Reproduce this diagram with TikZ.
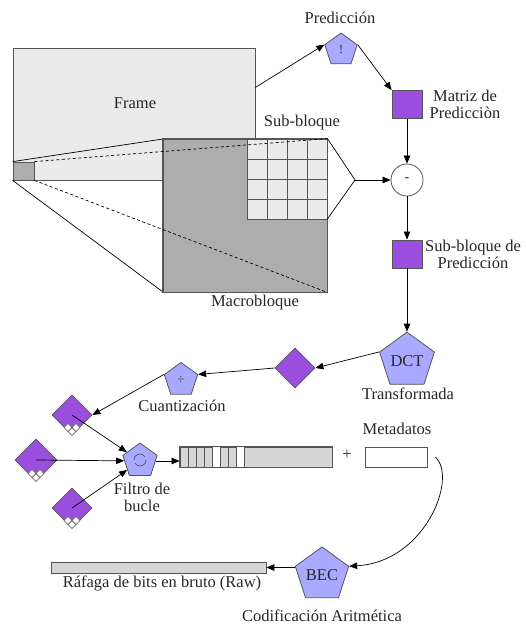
\documentclass[tikz,border=0pt]{standalone}
\usepackage{fontspec}
\setmainfont{Liberation Serif}
\usetikzlibrary{shapes.geometric,arrows.meta,calc}
\definecolor{lgray}{HTML}{EBEBEB}
\definecolor{dgray}{HTML}{ADADAD}
\definecolor{bargray}{HTML}{D6D6D6}
\definecolor{bord}{HTML}{555555}
\definecolor{pentc}{HTML}{A9A9FF}
\definecolor{purpc}{HTML}{9B4FDF}
\definecolor{txt}{HTML}{262626}
\newcommand\checkerat[1]{%
  \begin{scope}[shift={(#1)}]
    \foreach \dx/\dy in {0/-4,-4/-8,4/-8}
      {\draw[draw=bord, fill=white, line width=0.5pt] (\dx,\dy-4) -- (\dx+4,\dy) -- (\dx,\dy+4) -- (\dx-4,\dy) -- cycle;}
  \end{scope}}
\begin{document}
\begin{tikzpicture}[x=1pt,y=-1pt,
  lbl/.style={font=\fontsize{16.5}{17}\selectfont, text=txt, inner sep=0pt, align=center},
  pent/.style={regular polygon, regular polygon sides=5, draw=bord, fill=pentc, inner sep=0pt, line width=0.8pt, text=txt},
  dia/.style={diamond, aspect=1, draw=bord, fill=purpc, inner sep=0pt, line width=0.8pt},
  sqr/.style={rectangle, draw=bord, fill=purpc, minimum width=30pt, minimum height=28pt, inner sep=0pt, line width=0.8pt},
  box/.style={rectangle, draw=bord, inner sep=0pt, line width=0.8pt},
  arr/.style={-{Triangle[length=8pt,width=6.5pt]}, line width=0.7pt, draw=black},
  ln/.style={line width=0.7pt, draw=black},
  dsh/.style={dashed, dash pattern=on 3pt off 2.5pt, line width=0.7pt, draw=black}]
\useasboundingbox (0,0) rectangle (526,626);

% Frame and magnification
\node[box, fill=lgray, minimum width=242pt, minimum height=132pt] (frame) at (134,114) {};
\node[lbl] (framelbl) at (135,103) {Frame};
\node[box, fill=dgray, minimum width=21pt, minimum height=18pt] (small) at (23.5,171) {};
\draw[ln] (small.north west) -- (163,139) coordinate (mtl);
\draw[ln] (small.south west) -- (163,292) coordinate (mbl);
\node[box, fill=dgray, minimum width=164pt, minimum height=153pt] (macro) at (245,215.5) {};
\node[rectangle, fill=lgray, minimum width=80pt, minimum height=80pt, inner sep=0pt] (sub) at (287,179) {};
\foreach \i in {0,...,4} {
  \draw[bord, line width=0.8pt] (247+20*\i,139) -- (247+20*\i,219);
  \draw[bord, line width=0.8pt] (247,139+20*\i) -- (327,139+20*\i);
}
\draw[box] (macro.north west) rectangle (macro.south east);
\draw[dsh] (small.north east) -- (macro.north east);
\draw[dsh] (small.south east) -- (macro.south east);
\coordinate (apex) at (355,180);
\draw[ln] (macro.north east) -- (apex) -- (sub.south east);
\node[lbl] (sublbl) at (302,123) {Sub-bloque};
\node[lbl] (macrolbl) at (255,303) {Macrobloque};

% Prediction chain
\node[pent, minimum size=34pt, font=\fontsize{12}{12}\selectfont] (pred) at (341,50) {!};
\node[lbl] (predlbl) at (340,18) {Predicción};
\node[sqr] (mat) at (407,104.5) {};
\node[lbl] (matlbl) at (465,104) {Matriz de\\Predicciòn};
\node[circle, draw=bord, fill=white, minimum size=32pt, inner sep=0pt, line width=0.8pt, font=\fontsize{14}{14}\selectfont, text=txt] (minus) at (407,180) {-};
\node[sqr] (subp) at (407,254) {};
\node[lbl] (subplbl) at (473,254) {Sub-bloque de\\Predicción};
\node[pent, minimum size=50pt, font=\fontsize{16.5}{17}\selectfont] (dct) at (407,361) {DCT};
\node[lbl] (dctlbl) at (408,394) {Transformada};

\draw[arr] ($(frame.north east)!0.3!(frame.south east)$) -- (pred.corner 2);
\draw[arr] (pred.corner 5) -- (mat.north west);
\draw[arr] (mat.south) -- (minus.north);
\draw[arr] (apex) -- (minus.west);
\draw[arr] (minus.south) -- (subp.north);
\draw[arr] (subp.south) -- (dct.corner 1);

% Quantization
\node[dia, minimum width=40pt, minimum height=40pt] (dmid) at (295,368) {};
\node[pent, minimum size=35pt, font=\fontsize{12}{12}\selectfont] (quant) at (181,380) {÷};
\node[lbl] (quantlbl) at (182,406) {Cuantización};
\draw[arr] (dct.corner 2) -- (dmid.east);
\draw[arr] (dmid.west) -- (quant.corner 5);

\node[dia, minimum width=40pt, minimum height=40pt] (q1) at (72,415) {};
\node[dia, minimum width=42pt, minimum height=42pt] (q2) at (36,460) {};
\node[dia, minimum width=40pt, minimum height=40pt] (q3) at (72,508) {};
\checkerat{q1.south}
\checkerat{q2.south}
\checkerat{q3.south}
\draw[arr] (quant.corner 2) -- (q1.east);

% Loop filter
\node[pent, minimum size=36pt] (loop) at (140,461) {};
\draw[line width=0.7pt, draw=bord] (146,460) arc[start angle=0, end angle=150, radius=6];
\draw[line width=0.7pt, draw=bord] (134,460) arc[start angle=180, end angle=330, radius=6];
\node[lbl] (looplbl) at (142,497) {Filtro de\\bucle};
\draw[arr] (q1.center) -- (loop);
\draw[arr] (q2.center) -- (loop);
\draw[arr] (q3.center) -- (loop);

% Bitstream bar
\node[box, fill=bargray, minimum width=152pt, minimum height=20pt] (bar) at (256,457) {};
\fill[white] (212,447) rectangle (220,467);
\fill[white] (236,447) rectangle (244,467);
\foreach \xx in {188,196,204,212,220,228,236,244}
  \draw[bord, line width=0.8pt] (\xx,447) -- (\xx,467);
\draw[box] (bar.north west) rectangle (bar.south east);
\draw[arr] (loop.east) -- (loop.east -| bar.west);
\node[lbl] (plus) at (347,455) {+};
\node[box, fill=white, minimum width=62pt, minimum height=20pt] (meta) at (396,457) {};
\node[lbl] (metalbl) at (397,429) {Metadatos};

% Entropy coding
\node[pent, minimum size=52pt, font=\fontsize{16.5}{17}\selectfont] (bec) at (322,575) {BEC};
\node[lbl] (beclbl) at (322,616) {Codificación Aritmética};
\node[box, fill=bargray, minimum width=215pt, minimum height=11pt] (raw) at (158.5,567.5) {};
\node[lbl] (rawlbl) at (162,583) {Ráfaga de bits en bruto (Raw)};
\coordinate (mstart) at ([xshift=8pt]meta.east);
\draw[arr] (mstart) .. controls (458,478) and (425,562) .. (bec.corner 5);
\draw[arr] (bec.corner 2 |- raw.east) -- (raw.east);
\end{tikzpicture}
\end{document}
